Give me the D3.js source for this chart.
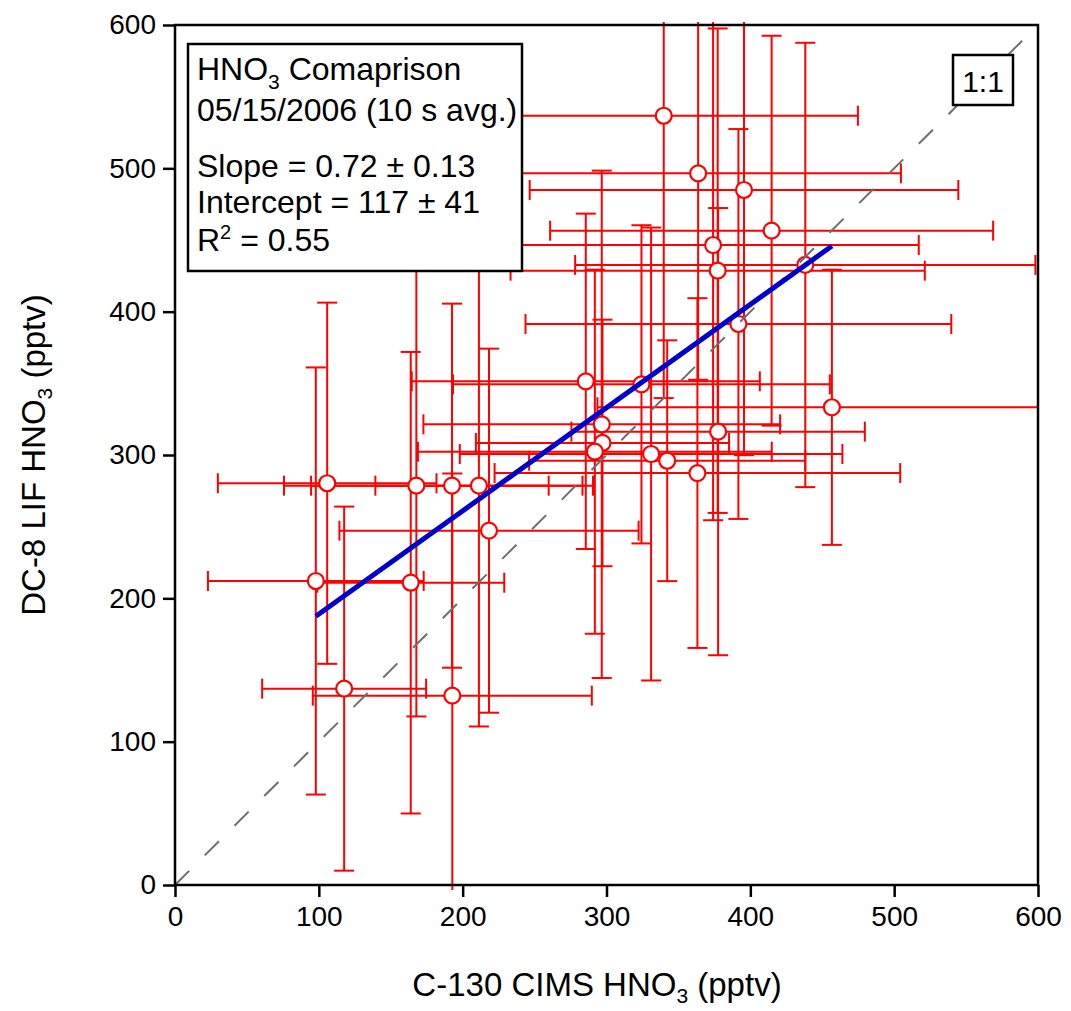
<!DOCTYPE html>
<html><head><meta charset="utf-8">
<script src="https://cdn.jsdelivr.net/npm/d3@7/dist/d3.min.js"></script>
<style>
body{margin:0;background:#fff}
text{font-family:"Liberation Sans",Arial,Helvetica,sans-serif}
</style>
</head><body>
<svg id="chart" width="1071" height="1011"></svg>
<script>
// ---- data ----
const xValues = [339.8,363.7,395.6,414.8,374.1,377.3,438.2,391.7,285.6,324.3,456.7,296.7,297.2,377.6,291.9,331.0,342.2,363.2,105.8,167.8,192.6,211.3,218.3,97.9,163.9,117.6,192.8];
const yValues = [536.7,496.5,484.9,456.5,446.5,428.6,432.6,391.4,351.4,349.3,333.3,321.4,308.4,316.3,302.3,300.7,296.0,287.4,280.3,278.6,278.6,278.6,247.2,212.1,210.9,137.0,132.1];
const xErrors = [135,141,149,154,143,144,160,148,121,131,163,124,88,102,123,133,96,141,76,92,98,72,104,75,65,57,97];
const yErrors = [197,144,185,136,192,169,155,136,117,111,96,177,86,156,127,158,84,122,126,161,127,168,127,149,161,127,155];
const xTicks = [0,100,200,300,400,500,600];
const yTicks = [0,100,200,300,400,500,600];
const fitSlope = 0.72;
const fitIntercept = 117;
const oneToOne = [0,600];
const xTitle = ["C-130 CIMS HNO", "3", " (pptv)"];
const yTitle = ["DC-8 LIF HNO", "3", " (pptv)"];
const oneToOneLabel = "1:1";

// ---- layout ----
const W = 1071, H = 1011;
const L = 175, R = 1038, T = 25, B = 885;
const svg = d3.select("#chart");
const x = d3.scaleLinear().domain([0,600]).range([L,R]);
const y = d3.scaleLinear().domain([0,600]).range([B,T]);
const red = "#ff0000";

svg.append("defs").append("clipPath").attr("id","plotclip")
  .append("rect").attr("x",L).attr("y",T-3).attr("width",R-L+1).attr("height",B-T+8);

const plot = svg.append("g").attr("clip-path","url(#plotclip)");

const pts = xValues.map((v,i)=>({x:v,y:yValues[i],ex:xErrors[i],ey:yErrors[i]}));
const cap = 10;

// error bars
const eb = plot.append("g").attr("stroke",red).attr("stroke-width",2).attr("fill","none");
pts.forEach(p=>{
  const g = eb.append("g");
  const x0 = x(p.x - p.ex), x1 = x(p.x + p.ex), y0 = y(p.y - p.ey), y1 = y(p.y + p.ey);
  g.append("line").attr("x1",x0).attr("x2",x1).attr("y1",y(p.y)).attr("y2",y(p.y));
  g.append("line").attr("x1",x(p.x)).attr("x2",x(p.x)).attr("y1",y0).attr("y2",y1);
  [x0,x1].forEach(xx=>g.append("line").attr("x1",xx).attr("x2",xx).attr("y1",y(p.y)-cap).attr("y2",y(p.y)+cap));
  [y0,y1].forEach(yy=>g.append("line").attr("x1",x(p.x)-cap).attr("x2",x(p.x)+cap).attr("y1",yy).attr("y2",yy));
});

// markers
plot.append("g").selectAll("circle").data(pts).join("circle")
  .attr("cx",d=>x(d.x)).attr("cy",d=>y(d.y)).attr("r",8)
  .attr("fill","#fff").attr("stroke",red).attr("stroke-width",2.2);

// 1:1 line
plot.append("line")
  .attr("x1",x(oneToOne[0])).attr("y1",y(oneToOne[0]))
  .attr("x2",x(oneToOne[1])).attr("y2",y(oneToOne[1]))
  .attr("stroke","#6e6e6e").attr("stroke-width",2).attr("stroke-dasharray","20,22");

// fit line
const xmin = d3.min(xValues), xmax = d3.max(xValues);
plot.append("line")
  .attr("x1",x(xmin)).attr("y1",y(fitIntercept + fitSlope*xmin))
  .attr("x2",x(xmax)).attr("y2",y(fitIntercept + fitSlope*xmax))
  .attr("stroke","#0000cc").attr("stroke-width",5);

// axes
const fs = 28;
const ax = svg.append("g").attr("transform",`translate(0,${B})`)
  .call(d3.axisBottom(x).tickValues(xTicks).tickSize(12).tickPadding(9).tickFormat(d3.format("d")));
const ay = svg.append("g").attr("transform",`translate(${L},0)`)
  .call(d3.axisLeft(y).tickValues(yTicks).tickSize(12).tickPadding(7).tickFormat(d3.format("d")));
[ax,ay].forEach(a=>{
  a.select(".domain").remove();
  a.selectAll(".tick line").attr("stroke","#000").attr("stroke-width",2.5);
  a.selectAll(".tick text").attr("fill","#000").style("font-size",fs+"px")
   .style("font-family",'"Liberation Sans",Arial,sans-serif');
});

// frame
svg.append("rect").attr("x",L).attr("y",T).attr("width",R-L).attr("height",B-T)
  .attr("fill","none").attr("stroke","#000").attr("stroke-width",2.5);

// axis titles
const tfs = 33;
const xt = svg.append("text").attr("x",597).attr("y",996).attr("text-anchor","middle")
  .style("font-size",tfs+"px").attr("fill","#000");
xt.append("tspan").text(xTitle[0]);
xt.append("tspan").text(xTitle[1]).style("font-size","21px").attr("dy",7);
xt.append("tspan").text(xTitle[2]).attr("dy",-7);

const yt = svg.append("text").attr("transform",`translate(45,${(T+B)/2}) rotate(-90)`)
  .attr("text-anchor","middle").style("font-size",tfs+"px").attr("fill","#000");
yt.append("tspan").text(yTitle[0]);
yt.append("tspan").text(yTitle[1]).style("font-size","21px").attr("dy",7);
yt.append("tspan").text(yTitle[2]).attr("dy",-7);

// annotation box
const bx = 188, by = 44, bw = 334, bh = 227;
svg.append("rect").attr("x",bx).attr("y",by).attr("width",bw).attr("height",bh)
  .attr("fill","#fff").attr("stroke","#000").attr("stroke-width",2.5);
const afs = 32;
const tx = 197;
const t1 = svg.append("text").attr("x",tx).attr("y",80).style("font-size",afs+"px");
t1.append("tspan").text("HNO");
t1.append("tspan").text("3").style("font-size","21px").attr("dy",9);
t1.append("tspan").text(" Comaprison").attr("dy",-9);
svg.append("text").attr("x",tx).attr("y",121).style("font-size",afs+"px").text("05/15/2006 (10 s avg.)");
svg.append("text").attr("x",tx).attr("y",177).style("font-size",afs+"px")
  .text(`Slope = ${fitSlope.toFixed(2)} \u00b1 0.13`);
svg.append("text").attr("x",tx).attr("y",213).style("font-size",afs+"px")
  .text(`Intercept = ${fitIntercept} \u00b1 41`);
const t5 = svg.append("text").attr("x",tx).attr("y",251).style("font-size",afs+"px");
t5.append("tspan").text("R");
t5.append("tspan").text("2").style("font-size","20px").attr("dy",-12);
t5.append("tspan").text(" = 0.55").attr("dy",12);

// 1:1 box
svg.append("rect").attr("x",953).attr("y",55).attr("width",60).attr("height",50)
  .attr("fill","#fff").attr("stroke","#000").attr("stroke-width",2.5);
svg.append("text").attr("x",983).attr("y",92).attr("text-anchor","middle")
  .style("font-size","30px").text(oneToOneLabel);
</script>
</body></html>
